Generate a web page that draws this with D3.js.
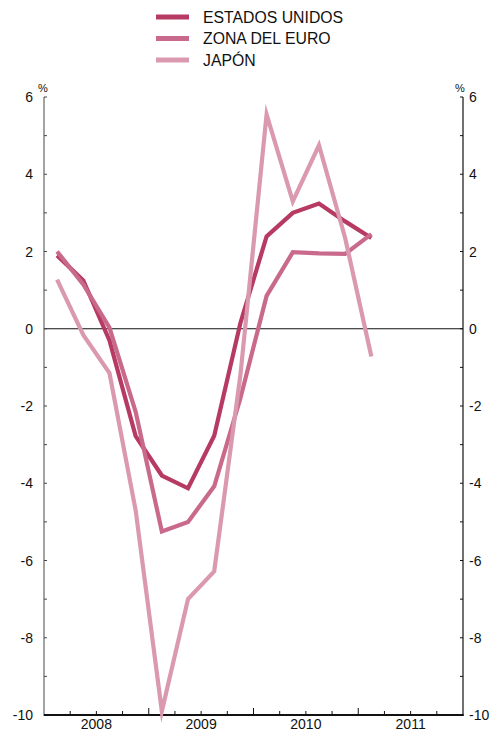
<!DOCTYPE html>
<html>
<head>
<meta charset="utf-8">
<script src="https://cdn.jsdelivr.net/npm/d3@7/dist/d3.min.js"></script>
<style>
  html, body { margin: 0; padding: 0; background: #fff; }
  svg { display: block; font-family: "Liberation Sans", Arial, Helvetica, sans-serif; }
</style>
</head>
<body>
<svg id="chart" width="497" height="733"></svg>
<script>
// Quarterly periods (2008 Q1 .. 2011 Q1)
const quarters = ["2008 T1","2008 T2","2008 T3","2008 T4","2009 T1","2009 T2","2009 T3","2009 T4","2010 T1","2010 T2","2010 T3","2010 T4","2011 T1"];
const years = ["2008","2009","2010","2011"];
const estadosUnidos = [1.9, 1.25, -0.3, -2.78, -3.8, -4.13, -2.77, 0.15, 2.39, 3.0, 3.24, 2.78, 2.35];
const zonaEuro      = [2.0, 1.15, 0.03, -2.15, -5.25, -5.0, -4.08, -1.8, 0.85, 1.98, 1.95, 1.94, 2.45];
const japon         = [1.27, -0.16, -1.15, -4.7, -9.9, -7.0, -6.28, -1.2, 5.55, 3.3, 4.75, 2.35, -0.72];
const yTicks = [6, 4, 2, 0, -2, -4, -6, -8, -10];
const seriesNames = ["ESTADOS UNIDOS", "ZONA DEL EURO", "JAPÓN"];
const seriesColors = ["#b63a62", "#c9698b", "#da99af"];

const svg = d3.select("#chart");
const mLeft = 44, mRight = 463, mTop = 97, mBottom = 715;

const x = d3.scaleLinear().domain([0, years.length * 4]).range([mLeft, mRight]);
const y = d3.scaleLinear().domain([-10, 6]).range([mBottom, mTop]);

// zero line
svg.append("line")
  .attr("x1", mLeft).attr("x2", mRight)
  .attr("y1", y(0)).attr("y2", y(0))
  .attr("stroke", "#111").attr("stroke-width", 1);

// left axis
const minorY = d3.range(-9, 6, 2);
const gL = svg.append("g").attr("transform", `translate(${mLeft},0)`);
gL.append("line").attr("y1", mTop).attr("y2", mBottom + 1).attr("stroke", "#666").attr("stroke-width", 1.2);
gL.selectAll(".tk").data(yTicks.concat(minorY)).join("line")
  .attr("x1", 0).attr("x2", 3).attr("y1", d => y(d)).attr("y2", d => y(d))
  .attr("stroke", "#444").attr("stroke-width", 1);
gL.selectAll("text").data(yTicks).join("text")
  .attr("x", -11).attr("y", d => y(d)).attr("dy", "0.36em")
  .attr("text-anchor", "end").attr("font-size", 14).attr("fill", "#111")
  .text(d => d);
svg.append("text").attr("x", 38).attr("y", 92).attr("font-size", 11).attr("fill", "#111").text("%");

// right axis
const gR = svg.append("g").attr("transform", `translate(${mRight},0)`);
gR.append("line").attr("y1", mTop).attr("y2", mBottom + 1).attr("stroke", "#111").attr("stroke-width", 1.2);
gR.selectAll(".tk").data(yTicks.concat(minorY)).join("line")
  .attr("x1", 0).attr("x2", -3).attr("y1", d => y(d)).attr("y2", d => y(d))
  .attr("stroke", "#111").attr("stroke-width", 1);
gR.selectAll("text").data(yTicks).join("text")
  .attr("x", 6).attr("y", d => y(d)).attr("dy", "0.36em")
  .attr("text-anchor", "start").attr("font-size", 14).attr("fill", "#111")
  .text(d => d);
svg.append("text").attr("x", 455).attr("y", 92).attr("font-size", 11).attr("fill", "#111").text("%");

// bottom axis
svg.append("line").attr("x1", mLeft).attr("x2", mRight + 0.6).attr("y1", mBottom).attr("y2", mBottom)
  .attr("stroke", "#111").attr("stroke-width", 2);
const qTicks = d3.range(1, years.length * 4);
svg.selectAll(".xt").data(qTicks).join("line")
  .attr("x1", d => x(d)).attr("x2", d => x(d))
  .attr("y1", mBottom).attr("y2", d => d % 4 === 0 ? mBottom - 7 : mBottom - 4)
  .attr("stroke", "#111").attr("stroke-width", 1);
svg.selectAll(".xl").data(years).join("text")
  .attr("x", (d, i) => x(i * 4 + 2)).attr("y", 729)
  .attr("text-anchor", "middle").attr("font-size", 14).attr("fill", "#111")
  .text(d => d);

// series lines
const line = d3.line().x((d, i) => x(i + 0.5)).y(d => y(d));
[estadosUnidos, zonaEuro, japon].forEach((s, k) => {
  svg.append("path").datum(s)
    .attr("d", line)
    .attr("fill", "none")
    .attr("stroke", seriesColors[k])
    .attr("stroke-width", 4.2)
    .attr("stroke-linejoin", "miter")
    .attr("stroke-miterlimit", 10);
});

// legend
const lg = svg.append("g");
seriesNames.forEach((n, k) => {
  const yy = 17 + k * 21.5;
  lg.append("line").attr("x1", 156).attr("x2", 189).attr("y1", yy).attr("y2", yy)
    .attr("stroke", seriesColors[k]).attr("stroke-width", 5);
  lg.append("text").attr("x", 203).attr("y", yy).attr("dy", "0.36em")
    .attr("font-size", 15.8).attr("fill", "#111").text(n);
});
</script>
</body>
</html>
